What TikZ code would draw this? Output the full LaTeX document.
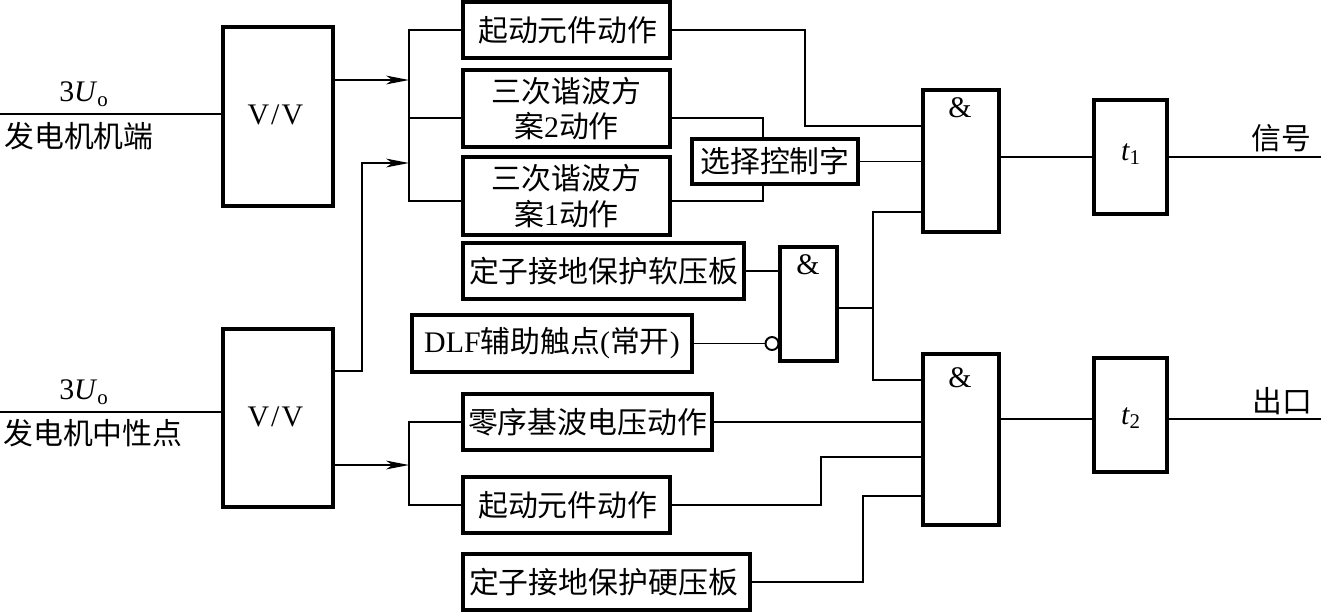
\documentclass[tikz,border=0pt]{standalone}
\usepackage{fontspec}
\setmainfont{Liberation Serif}
\newfontfamily\cjk{Noto Sans CJK SC}
\usetikzlibrary{arrows.meta}
\tikzset{
	block/.style={draw, line width=2.1pt, inner sep=0pt, outer sep=0pt, align=center, font=\fontsize{17}{20}\selectfont\cjk},
	wire/.style={line width=0.85pt},
	feed/.style={wire, -{Stealth[length=13pt, width=5pt, inset=3.5pt]}},
	label/.style={inner sep=0pt, outer sep=0pt, align=center, font=\fontsize{17}{20}\selectfont\cjk},
	latin/.style={inner sep=0pt, outer sep=0pt, font=\fontsize{17}{20}\selectfont}
}
\newcommand{\rmtext}[1]{{\rmfamily\fontsize{17}{20}\selectfont #1}}
\newcommand{\vvtext}[1]{\raisebox{#1}{V\kern1.2pt/\kern1.2pt V}\kern3pt}
\begin{document}
\begin{tikzpicture}[x=0.02cm, y=-0.02cm]
		%%%%% START %%%%%
		\useasboundingbox (0, 0) rectangle (1321, 613);
		
		\node[block, minimum width=110*0.02cm, minimum height=179*0.02cm, font=\fontsize{17}{20}\selectfont] (vvTerm) at (278, 116.5) {\vvtext{2.5pt}};
		\node[block, minimum width=110*0.02cm, minimum height=178*0.02cm, font=\fontsize{17}{20}\selectfont] (vvNeut) at (278, 418) {\vvtext{1.7pt}};
		
		\node[block, minimum width=207*0.02cm, minimum height=56*0.02cm] (startA) at (566.5, 30) {\raisebox{1pt}{\kern1.5pt 起动元件动作}};
		\node[block, minimum width=207*0.02cm, minimum height=77*0.02cm] (planTwo) at (566.5, 108.5) {三次谐波方\\案\rmtext{2}动作};
		\node[block, minimum width=207*0.02cm, minimum height=78*0.02cm] (planOne) at (566.5, 196) {三次谐波方\\案\rmtext{1}动作};
		\node[block, minimum width=281*0.02cm, minimum height=56*0.02cm] (softPlate) at (603.5, 271) {定子接地保护软压板};
		\node[block, minimum width=280*0.02cm, minimum height=57*0.02cm] (dlf) at (552, 343.5) {\rmtext{DLF}辅助触点\rmtext{(}常开\rmtext{)}};
		\node[block, minimum width=166*0.02cm, minimum height=45*0.02cm] (select) at (775, 161.5) {选择控制字};
		\node[block, minimum width=249*0.02cm, minimum height=56*0.02cm] (zeroSeq) at (587.5, 422) {零序基波电压动作};
		\node[block, minimum width=207*0.02cm, minimum height=56*0.02cm] (startB) at (566.5, 505) {\kern1.5pt 起动元件动作};
		\node[block, minimum width=287*0.02cm, minimum height=56*0.02cm] (hardPlate) at (606.5, 582) {定子接地保护硬压板\kern3.4pt};
		
		\node[block, minimum width=57*0.02cm, minimum height=114*0.02cm] (andIn) at (808.5, 304) {};
		\node[block, minimum width=76*0.02cm, minimum height=142*0.02cm] (andA) at (961, 161) {};
		\node[block, minimum width=76*0.02cm, minimum height=171*0.02cm] (andB) at (961, 439.5) {};
		\node[block, minimum width=73*0.02cm, minimum height=114*0.02cm] (timerA) at (1130.5, 157) {};
		\node[block, minimum width=73*0.02cm, minimum height=114*0.02cm] (timerB) at (1130.5, 415) {};
		
		\node[latin] (andInSign) at (808, 265) {\&};
		\node[latin] (andASign) at (960, 108) {\&};
		\node[latin] (andBSign) at (960, 378) {\&};
		\node[latin] (timerASign) at (1131, 154) {$\mathit{t}_{\mathrm{1}}$};
		\node[latin] (timerBSign) at (1131, 418) {$\mathit{t}_{\mathrm{2}}$};
		
		\node[latin] (termVolt) at (84, 94) {3\textit{U}\textsubscript{o}};
		\node[latin] (neutVolt) at (84, 392) {3\textit{U}\textsubscript{o}};
		\node[label] (termText) at (79, 136) {发电机机端};
		\node[label] (neutText) at (93, 433) {发电机中性点};
		\node[label] (signalText) at (1281, 138) {信号};
		\node[label] (exitText) at (1282, 401) {出口};
		
		\coordinate (inTerm) at (0, 114);
		\coordinate (inNeut) at (0, 412);
		\coordinate (outSignal) at (1321, 157);
		\coordinate (outExit) at (1321, 419);
		\coordinate (busTerm) at (409, 80);
		\coordinate (busNeut) at (409, 163);
		\coordinate (busLow) at (409, 465);
		\coordinate (riseNeut) at (362, 371);
		\coordinate (lineTwo) at (409, 118);
		\coordinate (lineOne) at (409, 201);
		\coordinate (jointSel) at (763, 161);
		\coordinate (jointAnd) at (873, 308);
		\coordinate (dropStart) at (805, 126);
		\coordinate (riseStart) at (821, 457);
		\coordinate (riseHard) at (863, 496);
		
		\draw[wire] (inTerm) -- (vvTerm.west |- inTerm);
		\draw[wire] (inNeut) -- (vvNeut.west |- inNeut);
		\draw[feed] (vvTerm.east |- busTerm) -- (busTerm);
		\draw[feed] (vvNeut.east |- riseNeut) -- (riseNeut) |- (busNeut);
		\draw[feed] (vvNeut.east |- busLow) -- (busLow);
		
		\draw[wire] (startA.west) -| (busTerm) |- (planOne.west |- lineOne);
		\draw[wire] (planTwo.west |- lineTwo) -- (lineTwo);
		\draw[wire] (zeroSeq.west) -| (busLow) |- (startB.west);
		
		\draw[wire] (startA.east) -| (dropStart) |- (andA.west |- dropStart);
		\draw[wire] (planTwo.east |- lineTwo) -| (select.north -| jointSel);
		\draw[wire] (planOne.east |- lineOne) -| (select.south -| jointSel);
		\draw[wire] (select.east) -- (select.east -| andA.west);
		
		\draw[wire] (softPlate.east) -- (softPlate.east -| andIn.west);
		\draw[wire] (dlf.east) -- (765.5, 343.5);
		\draw[line width=1.1pt, fill=white] (772, 343.5) circle (6.5);
		\draw[wire] (andIn.east |- jointAnd) -- (jointAnd);
		\draw[wire] (andA.west |- 0, 212) -| (jointAnd) |- (andB.west |- 0, 380);
		
		\draw[wire] (andA.east |- outSignal) -- (timerA.west |- outSignal);
		\draw[wire] (timerA.east |- outSignal) -- (outSignal);
		\draw[wire] (andB.east |- outExit) -- (timerB.west |- outExit);
		\draw[wire] (timerB.east |- outExit) -- (outExit);
		
		\draw[wire] (zeroSeq.east) -- (zeroSeq.east -| andB.west);
		\draw[wire] (startB.east) -| (riseStart) -- (andB.west |- riseStart);
		\draw[wire] (hardPlate.east) -| (riseHard) -- (andB.west |- riseHard);
		
		%%%%% END %%%%%
	\end{tikzpicture}
\end{document}
